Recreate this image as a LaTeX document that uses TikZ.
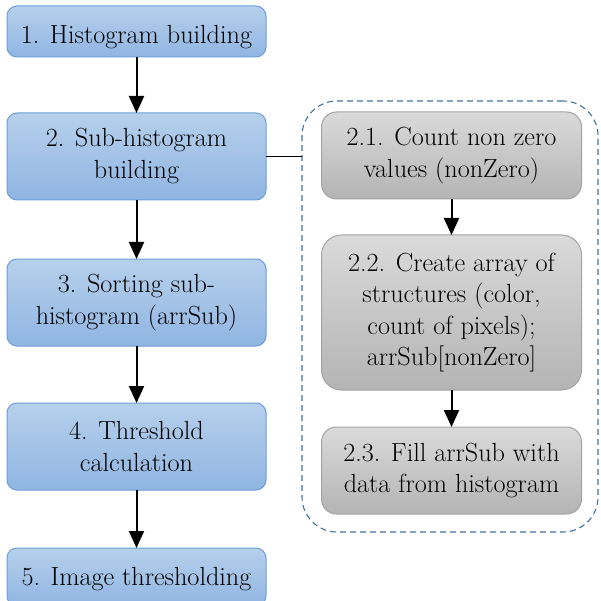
\documentclass[tikz,border=0pt]{standalone}
\usetikzlibrary{arrows.meta}
\definecolor{bluetop}{HTML}{B6D0EC}
\definecolor{bluebot}{HTML}{90B5E2}
\definecolor{blueedge}{HTML}{6C9ED6}
\definecolor{graytop}{HTML}{DADADA}
\definecolor{graybot}{HTML}{B4B4B4}
\definecolor{grayedge}{HTML}{A3A3A3}
\definecolor{dashedge}{HTML}{41719C}
\tikzset{
  bluebox/.style={draw=blueedge, line width=1pt, top color=bluetop, bottom color=bluebot,
    rounded corners=10pt, minimum width=259pt, inner sep=0pt, outer sep=0pt, align=center,
    font=\fontsize{26.2}{32}\selectfont},
  graybox/.style={draw=grayedge, line width=1pt, top color=graytop, bottom color=graybot,
    rounded corners=15pt, minimum width=260pt, inner sep=0pt, outer sep=0pt, align=center,
    font=\fontsize{26.2}{31.5}\selectfont},
  oneline/.style={text height=24pt, text depth=0pt},
  groupbox/.style={draw=dashedge, line width=1.1pt, dash pattern=on 6pt off 4pt,
    rounded corners=35pt, minimum width=296pt, minimum height=431pt, inner sep=0pt, outer sep=0pt},
  flow/.style={-{Triangle[length=17pt,width=15pt]}, line width=2pt, black},
  link/.style={line width=1pt, black}
}
\begin{document}
\begin{tikzpicture}[x=1pt,y=-1pt]
\useasboundingbox (0,0) rectangle (600,601);
\node[bluebox, oneline, minimum height=51pt] (b1) at (136.5,31.5) {1. Histogram building};
\node[bluebox, minimum height=87pt] (b2) at (136.5,156.5) {2. Sub-histogram\\building};
\node[bluebox, minimum height=87pt] (b3) at (136.5,302.5) {3. Sorting sub-\\histogram (arrSub)};
\node[bluebox, minimum height=87pt] (b4) at (136.5,446.5) {4. Threshold\\calculation};
\node[bluebox, text height=16pt, text depth=0pt, minimum height=58pt] (b5) at (136.5,577) {5. Image thresholding};
\node[groupbox] (grp) at (450,316.5) {};
\node[graybox, minimum height=87pt] (g1) at (451.5,155.5) {2.1. Count non zero\\values (nonZero)};
\node[graybox, minimum height=155pt, rounded corners=20pt] (g2) at (451.5,312.5) {2.2. Create array of\\structures (color,\\count of pixels);\\arrSub[nonZero]};
\node[graybox, minimum height=87pt] (g3) at (451.5,470.5) {2.3. Fill arrSub with\\data from histogram};
\draw[flow] (b1) -- (b2);
\draw[flow] (b2) -- (b3);
\draw[flow] (b3) -- (b4);
\draw[flow] (b4) -- (b5);
\draw[flow] (g1) -- (g2);
\draw[flow] (g2) -- (g3);
\draw[link] (b2.east) -- (b2.east -| grp.west);
\end{tikzpicture}
\end{document}
